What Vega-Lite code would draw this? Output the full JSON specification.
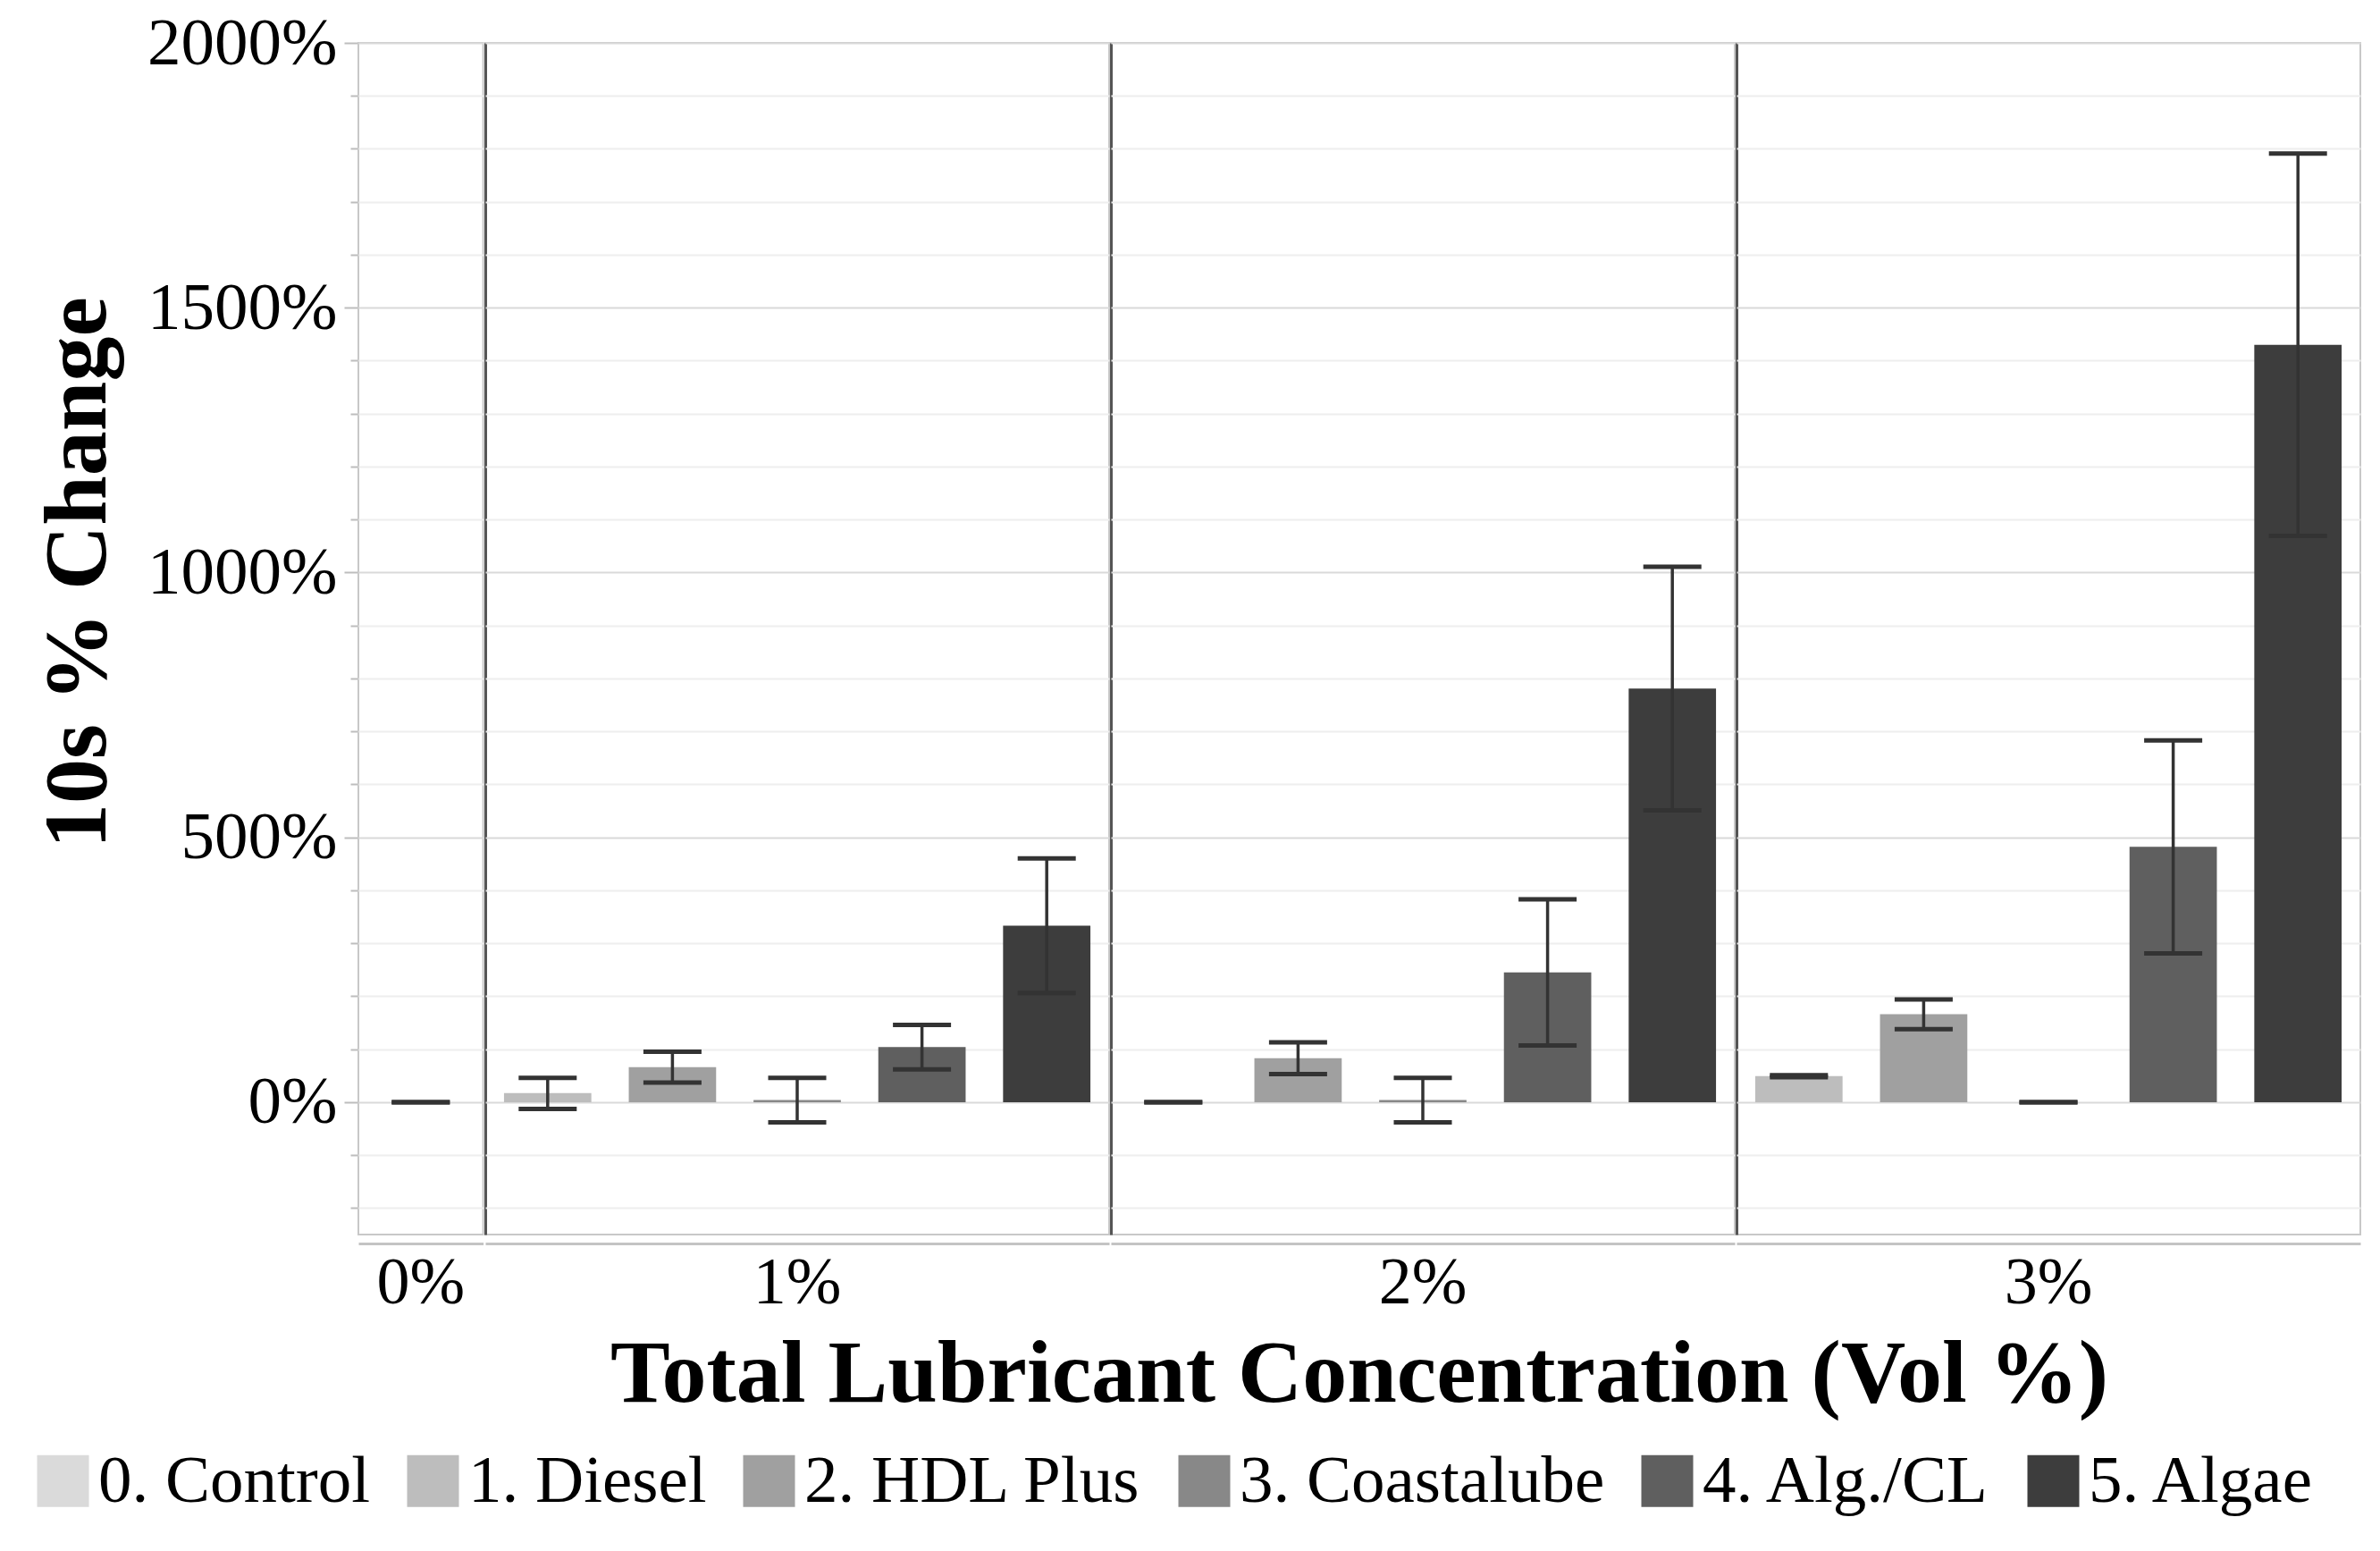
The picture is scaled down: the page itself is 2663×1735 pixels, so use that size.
{
  "$schema": "https://vega.github.io/schema/vega-lite/v6.json",
  "background": "white",
  "padding": {"left": 33, "top": 11, "right": 10, "bottom": 10},
  "data": {
    "values": [
      {"conc": "0%", "lub": "0. Control", "value": 0, "lo": 0, "hi": 0},
      {"conc": "1%", "lub": "1. Diesel", "value": 17, "lo": -13, "hi": 46},
      {"conc": "1%", "lub": "2. HDL Plus", "value": 66, "lo": 37, "hi": 95},
      {"conc": "1%", "lub": "3. Coastalube", "value": 4, "lo": -38, "hi": 46},
      {"conc": "1%", "lub": "4. Alg./CL", "value": 104, "lo": 62, "hi": 146},
      {"conc": "1%", "lub": "5. Algae", "value": 333, "lo": 206, "hi": 460},
      {"conc": "2%", "lub": "1. Diesel", "value": 0, "lo": 0, "hi": 0},
      {"conc": "2%", "lub": "2. HDL Plus", "value": 83, "lo": 53, "hi": 113},
      {"conc": "2%", "lub": "3. Coastalube", "value": 4, "lo": -38, "hi": 46},
      {"conc": "2%", "lub": "4. Alg./CL", "value": 245, "lo": 107, "hi": 383},
      {"conc": "2%", "lub": "5. Algae", "value": 781, "lo": 551, "hi": 1011},
      {"conc": "3%", "lub": "1. Diesel", "value": 49, "lo": 47, "hi": 51},
      {"conc": "3%", "lub": "2. HDL Plus", "value": 166, "lo": 138, "hi": 194},
      {"conc": "3%", "lub": "3. Coastalube", "value": 0, "lo": 0, "hi": 0},
      {"conc": "3%", "lub": "4. Alg./CL", "value": 482, "lo": 281, "hi": 683},
      {"conc": "3%", "lub": "5. Algae", "value": 1430, "lo": 1069, "hi": 1791}
    ]
  },
  "facet": {
    "column": {
      "field": "conc",
      "type": "ordinal",
      "sort": ["0%", "1%", "2%", "3%"],
      "title": "Total Lubricant Concentration (Vol %)",
      "header": {
        "labelOrient": "bottom",
        "titleOrient": "bottom",
        "labelFont": "Liberation Serif",
        "labelFontSize": 74,
        "labelColor": "black",
        "labelPadding": 8,
        "titleFont": "Liberation Serif",
        "titleFontSize": 100,
        "titleFontWeight": "bold",
        "titleColor": "black",
        "titlePadding": 6
      }
    }
  },
  "spacing": 0,
  "resolve": {"scale": {"x": "independent"}},
  "spec": {
    "width": {"step": 139.6},
    "height": 1333,
    "encoding": {
      "x": {
        "field": "lub",
        "type": "nominal",
        "sort": ["0. Control", "1. Diesel", "2. HDL Plus", "3. Coastalube", "4. Alg./CL", "5. Algae"],
        "scale": {"paddingInner": 0, "paddingOuter": 0},
        "axis": {
          "title": null,
          "labels": false,
          "ticks": false,
          "domain": true,
          "domainColor": "#c4c4c4",
          "domainWidth": 3,
          "offset": 10,
          "grid": true,
          "values": ["1. Diesel"],
          "bandPosition": 0,
          "gridColor": "#555555",
          "gridWidth": 3
        }
      }
    },
    "layer": [
      {
        "mark": {"type": "bar", "width": {"band": 0.7}},
        "encoding": {
          "y": {
            "field": "value",
            "type": "quantitative",
            "scale": {"domain": [-250, 2000], "nice": false},
            "title": "10s % Change",
            "axis": {
              "values": [-200, -100, 0, 100, 200, 300, 400, 500, 600, 700, 800, 900, 1000, 1100, 1200, 1300, 1400, 1500, 1600, 1700, 1800, 1900, 2000],
              "labelExpr": "datum.value % 500 === 0 ? datum.value + '%' : ''",
              "labelOverlap": false,
              "labelLimit": 0,
              "labelFont": "Liberation Serif",
              "labelFontSize": 75,
              "labelColor": "black",
              "labelPadding": 8,
              "tickSize": {"condition": {"test": "datum.value % 500 === 0", "value": 15}, "value": 8},
              "tickColor": "#bdbdbd",
              "tickWidth": 2,
              "domain": false,
              "gridColor": {"condition": {"test": "datum.value % 500 === 0", "value": "#d9d9d9"}, "value": "#eeeeee"},
              "gridWidth": 2,
              "titleFont": "Liberation Serif",
              "titleFontSize": 100,
              "titleFontWeight": "bold",
              "titleColor": "black",
              "titleX": -283,
              "titleY": 592,
              "titleBaseline": "alphabetic",
              "titleAngle": 270,
              "titleAlign": "center"
            }
          },
          "color": {
            "field": "lub",
            "type": "nominal",
            "scale": {
              "domain": ["0. Control", "1. Diesel", "2. HDL Plus", "3. Coastalube", "4. Alg./CL", "5. Algae"],
              "range": ["#dadada", "#bdbdbd", "#a0a0a0", "#888888", "#5f5f5f", "#3d3d3d"]
            },
            "legend": {
              "orient": "none",
              "legendX": -368,
              "legendY": 1571,
              "direction": "horizontal",
              "title": null,
              "symbolType": "square",
              "symbolSize": 3364,
              "symbolStrokeWidth": 0,
              "symbolOpacity": 1,
              "labelFont": "Liberation Serif",
              "labelFontSize": 75,
              "labelColor": "black",
              "labelOffset": 2,
              "labelLimit": 0,
              "columnPadding": 32
            }
          }
        }
      },
      {
        "mark": {"type": "rule", "color": "#333333", "strokeWidth": 3.5},
        "encoding": {
          "y": {"field": "lo", "type": "quantitative"},
          "y2": {"field": "hi"}
        }
      },
      {
        "mark": {"type": "tick", "color": "#333333", "thickness": 5, "size": 65, "opacity": 1},
        "encoding": {"y": {"field": "lo", "type": "quantitative"}}
      },
      {
        "mark": {"type": "tick", "color": "#333333", "thickness": 5, "size": 65, "opacity": 1},
        "encoding": {"y": {"field": "hi", "type": "quantitative"}}
      }
    ]
  },
  "config": {
    "view": {"stroke": "#c8c8c8", "strokeWidth": 2},
    "font": "Liberation Serif"
  }
}
